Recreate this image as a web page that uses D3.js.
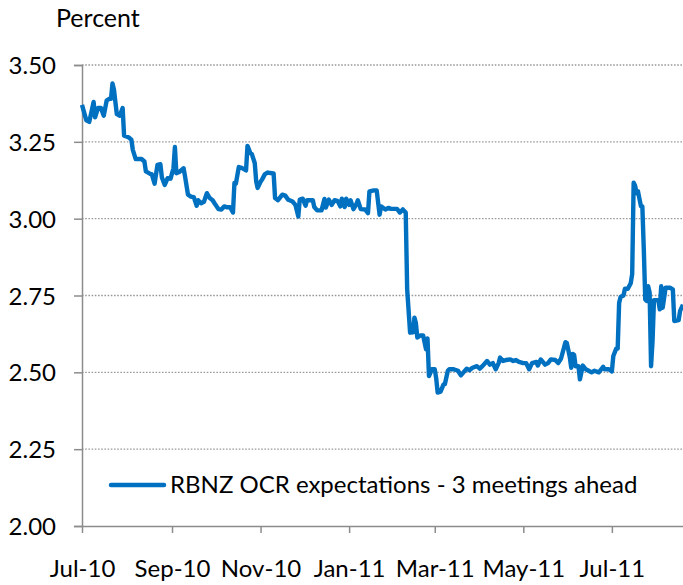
<!DOCTYPE html>
<html>
<head>
<meta charset="utf-8">
<script src="https://cdn.jsdelivr.net/npm/d3@7"></script>
<style>
  html, body { margin: 0; padding: 0; background: #fff; }
  svg { display: block; }
  text { font-family: Lato, "Open Sans", sans-serif; fill: #000; }
</style>
</head>
<body>
<svg id="chart" width="683" height="585"></svg>
<script>
// ---- Data ----
const seriesName = "RBNZ OCR expectations - 3 meetings ahead";
const yAxisTitle = "Percent";
const yTicks = [2.00, 2.25, 2.50, 2.75, 3.00, 3.25, 3.50];
const xTickDates = ["2010-07-01", "2010-09-01", "2010-11-01", "2011-01-01", "2011-03-01", "2011-05-01", "2011-07-01"];
const xDomain = ["2010-07-01", "2011-08-19"];

const obsDates = [
  "2010-07-01","2010-07-04","2010-07-06","2010-07-09","2010-07-10","2010-07-12","2010-07-14","2010-07-16",
  "2010-07-18","2010-07-20","2010-07-21","2010-07-22","2010-07-23","2010-07-25","2010-07-27","2010-07-29",
  "2010-07-30","2010-08-02","2010-08-04","2010-08-05","2010-08-07","2010-08-11","2010-08-13","2010-08-14",
  "2010-08-17","2010-08-18","2010-08-20","2010-08-22","2010-08-24","2010-08-25","2010-08-27","2010-08-29",
  "2010-08-31","2010-09-02","2010-09-03","2010-09-04","2010-09-06","2010-09-09","2010-09-10","2010-09-12",
  "2010-09-14","2010-09-16","2010-09-18","2010-09-19","2010-09-21","2010-09-23","2010-09-25","2010-09-27",
  "2010-09-29","2010-10-01","2010-10-03","2010-10-05","2010-10-07","2010-10-09","2010-10-11","2010-10-13",
  "2010-10-14","2010-10-15","2010-10-17","2010-10-19","2010-10-22","2010-10-23","2010-10-25","2010-10-26",
  "2010-10-28","2010-10-29","2010-10-30","2010-11-01","2010-11-02","2010-11-04","2010-11-06","2010-11-10",
  "2010-11-11","2010-11-13","2010-11-16","2010-11-18","2010-11-20","2010-11-21","2010-11-23","2010-11-25",
  "2010-11-27","2010-11-28","2010-11-30","2010-12-02","2010-12-03","2010-12-07","2010-12-08","2010-12-10",
  "2010-12-13","2010-12-15","2010-12-16","2010-12-18","2010-12-20","2010-12-22","2010-12-24","2010-12-26",
  "2010-12-27","2010-12-29","2010-12-30","2011-01-01","2011-01-02","2011-01-04","2011-01-06","2011-01-07",
  "2011-01-09","2011-01-12","2011-01-14","2011-01-15","2011-01-18","2011-01-20","2011-01-22","2011-01-23",
  "2011-01-26","2011-01-28","2011-01-30","2011-02-03","2011-02-05","2011-02-07","2011-02-08","2011-02-09",
  "2011-02-10","2011-02-12","2011-02-14","2011-02-15","2011-02-16","2011-02-17","2011-02-19","2011-02-21",
  "2011-02-23","2011-02-24","2011-02-25","2011-02-27","2011-03-01","2011-03-02","2011-03-03","2011-03-05",
  "2011-03-07","2011-03-08","2011-03-10","2011-03-11","2011-03-14","2011-03-17","2011-03-19","2011-03-23",
  "2011-03-25","2011-03-27","2011-03-30","2011-04-01","2011-04-03","2011-04-06","2011-04-08","2011-04-10",
  "2011-04-12","2011-04-14","2011-04-15","2011-04-17","2011-04-19","2011-04-22","2011-04-24","2011-04-26",
  "2011-04-28","2011-05-01","2011-05-03","2011-05-05","2011-05-07","2011-05-10","2011-05-11","2011-05-13",
  "2011-05-16","2011-05-18","2011-05-20","2011-05-23","2011-05-25","2011-05-27","2011-05-30","2011-05-31",
  "2011-06-02","2011-06-03","2011-06-04","2011-06-05","2011-06-06","2011-06-08","2011-06-09","2011-06-11",
  "2011-06-13","2011-06-15","2011-06-17","2011-06-19","2011-06-22","2011-06-25","2011-06-26","2011-06-29",
  "2011-07-01","2011-07-02","2011-07-04","2011-07-05","2011-07-06","2011-07-07","2011-07-09","2011-07-10",
  "2011-07-12","2011-07-14","2011-07-15","2011-07-16","2011-07-17","2011-07-18","2011-07-19","2011-07-21",
  "2011-07-22","2011-07-23","2011-07-24","2011-07-25","2011-07-26","2011-07-27","2011-07-28","2011-07-29",
  "2011-07-30","2011-08-02","2011-08-03","2011-08-04","2011-08-05","2011-08-07","2011-08-10","2011-08-12",
  "2011-08-13","2011-08-16","2011-08-17","2011-08-19"
];

const ocrExpect = [
  3.37, 3.32, 3.315, 3.38, 3.33, 3.36, 3.36, 3.335,
  3.385, 3.39, 3.39, 3.44, 3.42, 3.34, 3.335, 3.36,
  3.27, 3.265, 3.257, 3.224, 3.194, 3.194, 3.186, 3.154,
  3.146, 3.145, 3.114, 3.175, 3.177, 3.135, 3.11, 3.132,
  3.13, 3.164, 3.233, 3.148, 3.152, 3.164, 3.137, 3.078,
  3.072, 3.07, 3.042, 3.06, 3.05, 3.055, 3.083, 3.067,
  3.06, 3.045, 3.031, 3.03, 3.04, 3.037, 3.037, 3.02,
  3.116, 3.114, 3.168, 3.165, 3.157, 3.237, 3.213, 3.21,
  3.181, 3.121, 3.10, 3.12, 3.127, 3.145, 3.15, 3.147,
  3.067, 3.06, 3.078, 3.075, 3.062, 3.06, 3.056, 3.045,
  3.007, 3.062, 3.065, 3.042, 3.06, 3.06, 3.038, 3.027,
  3.027, 3.064, 3.036, 3.062, 3.045, 3.06, 3.058, 3.04,
  3.065, 3.038, 3.065, 3.045, 3.06, 3.031, 3.047, 3.06,
  3.031, 3.03, 3.018, 3.089, 3.092, 3.092, 3.013, 3.04,
  3.03, 3.035, 3.032, 3.032, 3.02, 3.03, 3.025, 3.02,
  2.77, 2.629, 2.63, 2.678, 2.66, 2.613, 2.62, 2.62,
  2.575, 2.61, 2.488, 2.51, 2.51, 2.48, 2.434, 2.437,
  2.46, 2.462, 2.505, 2.51, 2.51, 2.505, 2.49, 2.512,
  2.507, 2.515, 2.52, 2.512, 2.521, 2.537, 2.525, 2.53,
  2.51, 2.53, 2.548, 2.537, 2.54, 2.542, 2.537, 2.54,
  2.534, 2.53, 2.53, 2.51, 2.53, 2.534, 2.522, 2.542,
  2.525, 2.53, 2.542, 2.54, 2.53, 2.545, 2.598, 2.595,
  2.55, 2.515, 2.56, 2.557, 2.52, 2.52, 2.477, 2.522,
  2.51, 2.505, 2.50, 2.505, 2.50, 2.518, 2.51, 2.51,
  2.503, 2.553, 2.577, 2.577, 2.726, 2.745, 2.75, 2.772,
  2.772, 2.79, 2.82, 3.117, 3.107, 3.083, 3.089, 3.041,
  3.04, 2.90, 2.737, 2.732, 2.78, 2.76, 2.52, 2.60,
  2.735, 2.735, 2.705, 2.78, 2.71, 2.775, 2.775, 2.77,
  2.667, 2.67, 2.70, 2.72
];

// ---- Drawing ----
const parse = d3.timeParse("%Y-%m-%d");
const data = obsDates.map((d, i) => ({ date: parse(d), value: ocrExpect[i] }));

const svg = d3.select("#chart");
const plotLeft = 82, plotRight = 683, plotTop = 65, plotBottom = 526;

const x = d3.scaleTime().domain(xDomain.map(parse)).range([plotLeft, plotRight]);
const y = d3.scaleLinear().domain([2.0, 3.5]).range([plotBottom, plotTop]);

const axisColor = "#8c8c8c";
const fontSize = 24;

// gridlines
svg.append("g").selectAll("line")
  .data(yTicks.filter(t => t > 2.0))
  .join("line")
  .attr("x1", plotLeft).attr("x2", plotRight)
  .attr("y1", d => y(d)).attr("y2", d => y(d))
  .attr("stroke", "#9a9a9a")
  .attr("stroke-width", 1.3)
  .attr("stroke-dasharray", "1.6,1.6");

// y axis
const yAxis = d3.axisLeft(y).tickValues(yTicks).tickSize(8).tickPadding(18).tickFormat(d3.format(".2f"));
const gy = svg.append("g").attr("transform", `translate(${plotLeft},0)`).call(yAxis);
gy.select(".domain").attr("stroke", axisColor).attr("stroke-width", 1.5);
gy.selectAll(".tick line").attr("stroke", axisColor).attr("stroke-width", 1.5);
gy.selectAll(".tick text").attr("font-size", fontSize).style("font-family", "Lato").attr("fill", "#000").attr("dy", "0.36em");

// x axis
const xAxis = d3.axisBottom(x).tickValues(xTickDates.map(parse)).tickSize(7).tickPadding(0).tickFormat(d3.timeFormat("%b-%y"));
const gx = svg.append("g").attr("transform", `translate(0,${plotBottom})`).call(xAxis);
gx.select(".domain").attr("stroke", axisColor).attr("stroke-width", 1.5).attr("d", `M${plotLeft},0.5H${plotRight}`);
gx.selectAll(".tick line").attr("stroke", axisColor).attr("stroke-width", 1.5);
gx.selectAll(".tick text").attr("font-size", fontSize).style("font-family", "Lato").attr("fill", "#000")
  .attr("y", 51).attr("dy", 0);

// y axis title
svg.append("text").attr("x", 56).attr("y", 27).attr("font-size", 25).text(yAxisTitle);

// series line
const line = d3.line().x(d => x(d.date)).y(d => y(d.value));
svg.append("path").datum(data)
  .attr("d", line)
  .attr("fill", "none")
  .attr("stroke", "#0070C0")
  .attr("stroke-width", 4.4)
  .attr("stroke-linejoin", "round")
  .attr("stroke-linecap", "butt");

// legend
svg.append("line").attr("x1", 111).attr("x2", 164).attr("y1", 485).attr("y2", 485)
  .attr("stroke", "#0070C0").attr("stroke-width", 4.5).attr("stroke-linecap", "round");
svg.append("text").attr("x", 170).attr("y", 493).attr("font-size", fontSize).text(seriesName);
</script>
</body>
</html>
